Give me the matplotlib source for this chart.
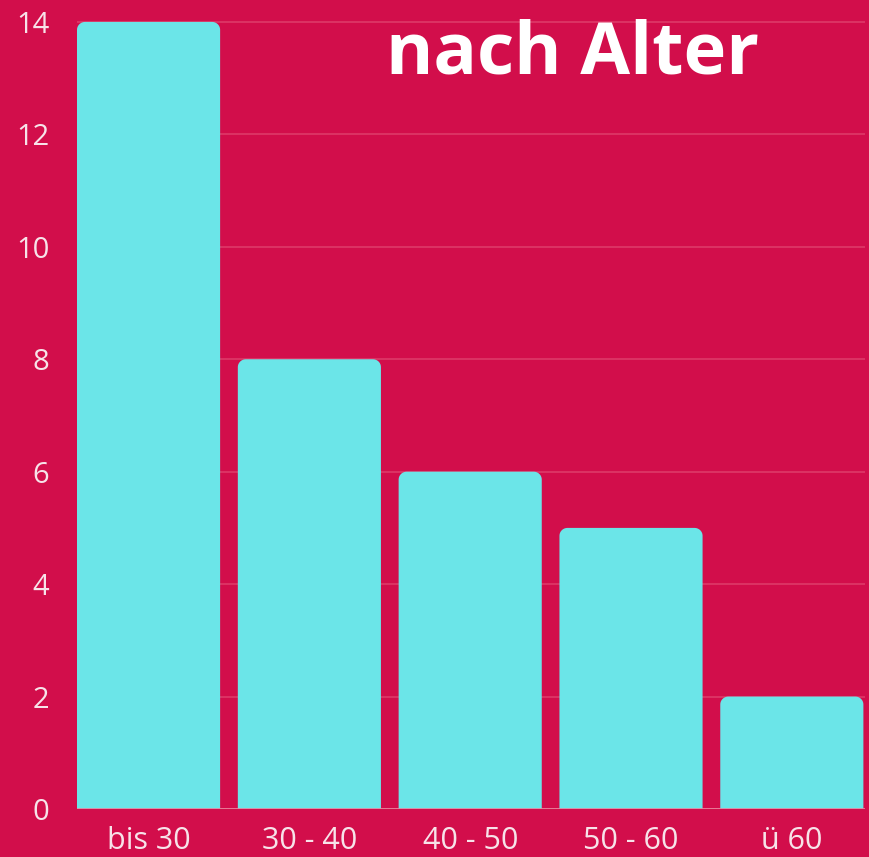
import matplotlib
matplotlib.use("Agg")
import numpy as np
import matplotlib.pyplot as plt
from matplotlib.patches import PathPatch
from matplotlib.path import Path

categories = ["bis 30", "30 - 40", "40 - 50", "50 - 60", "ü 60"]
values = [14, 8, 6, 5, 2]
yticks = [0, 2, 4, 6, 8, 10, 12, 14]
title = "nach Alter"

bg = "#D20E4B"
bar_color = "#6BE5E8"
text_color = "#F7E3E9"
grid_color = "#DE3A69"

fig = plt.figure(figsize=(8.7, 8.57), dpi=100, facecolor=bg)
ax = fig.add_axes([77/870, 48/857, 788/870, 809/857], facecolor=bg)

bars = ax.bar(range(len(categories)), values, width=0.89, color=bar_color, zorder=2)
ax.set_xlim(-0.445, 4.455)
ax.set_ylim(0, 14.39)


def top_rounded(x, y, w, h, rx, ry, n=12):
    verts = [(x, y), (x + w, y), (x + w, y + h - ry)]
    t = np.linspace(0, np.pi / 2, n)
    cx, cy = x + w - rx, y + h - ry
    verts += [(cx + rx * np.cos(a), cy + ry * np.sin(a)) for a in t]
    cx = x + rx
    verts += [(cx + rx * np.cos(a), cy + ry * np.sin(a)) for a in t + np.pi / 2]
    verts += [(x, y)]
    codes = [Path.MOVETO] + [Path.LINETO] * (len(verts) - 2) + [Path.CLOSEPOLY]
    return Path(verts, codes)


rx = 0.05
ry = 0.14
for b in bars:
    x, y, w, h = b.get_x(), b.get_y(), b.get_width(), b.get_height()
    b.set_visible(False)
    ax.add_patch(PathPatch(top_rounded(x, y, w, h, rx, ry), facecolor=bar_color,
                           edgecolor="none", zorder=2))

ax.set_yticks(yticks)
ax.set_xticks(range(len(categories)))
ax.set_xticklabels(categories)
ax.grid(axis="y", color=grid_color, linewidth=1.2, zorder=0)
ax.set_axisbelow(True)
for s in ax.spines.values():
    s.set_visible(False)
ax.axhline(0, color="#E9859F", linewidth=1.2, zorder=3)
ax.tick_params(axis="y", length=0, colors=text_color, labelsize=21, pad=20)
ax.tick_params(axis="x", length=0, colors=text_color, labelsize=22, pad=12)
for lab in ax.get_xticklabels() + ax.get_yticklabels():
    lab.set_fontfamily("Open Sans")

fig.text(573/870, 1 - 54/857, title, ha="center", va="center", color="white",
         fontsize=52, fontweight="bold", fontfamily="Open Sans")

fig.savefig("out.png", dpi=100, facecolor=bg)
